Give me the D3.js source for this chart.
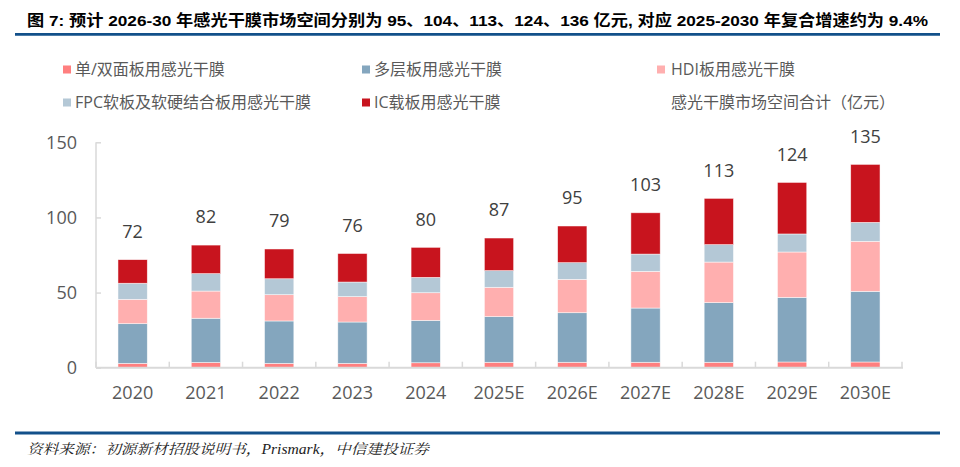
<!DOCTYPE html>
<html>
<head>
<meta charset="utf-8">
<script src="https://cdn.jsdelivr.net/npm/d3@7/dist/d3.min.js"></script>
<style>
  html, body { margin: 0; padding: 0; background: #fff; }
  svg { display: block; }
</style>
</head>
<body>
<svg id="chart" width="960" height="467"></svg>
<script>
// ---- data ----
const categories = ['2020','2021','2022','2023','2024','2025E','2026E','2027E','2028E','2029E','2030E'];
const singleDouble = [2.9, 3.5, 2.9, 2.9, 3.3, 3.6, 3.6, 3.6, 3.6, 3.8, 3.8];
const multiLayer   = [26.4, 29.4, 28.2, 27.5, 28.2, 30.4, 33.0, 36.1, 39.7, 43.0, 47.0];
const hdi          = [16.2, 18.1, 17.5, 16.9, 18.4, 19.5, 22.2, 24.4, 27.0, 30.2, 33.3];
const fpc          = [10.7, 11.6, 10.6, 9.7, 10.2, 11.1, 11.1, 11.5, 11.6, 12.0, 12.6];
const icSubstrate  = [15.7, 19.0, 19.8, 19.0, 20.0, 21.7, 24.4, 27.5, 30.8, 34.3, 38.6];
const totals       = [72, 82, 79, 76, 80, 87, 95, 103, 113, 124, 135];
const yTicks = [0, 50, 100, 150];

const seriesNames = ['单/双面板用感光干膜', '多层板用感光干膜', 'HDI板用感光干膜', 'FPC软板及软硬结合板用感光干膜', 'IC载板用感光干膜'];
const totalName = '感光干膜市场空间合计（亿元）';
const titleText = '图 7:  预计 2026-30 年感光干膜市场空间分别为 95、104、113、124、136 亿元, 对应 2025-2030 年复合增速约为 9.4%';
const sourceText = '资料来源：初源新材招股说明书，Prismark，中信建投证券';

// ---- build table ----
const keys = ['s','m','h','f','i'];
const seriesArrays = [singleDouble, multiLayer, hdi, fpc, icSubstrate];
const table = categories.map((c, idx) => {
  const row = { cat: c };
  keys.forEach((k, j) => row[k] = seriesArrays[j][idx]);
  return row;
});
const colors = ['#FF7F7F', '#84A6BE', '#FFAFAF', '#B4C8D6', '#C8141E'];

const svg = d3.select('#chart');
const fontSans = '"Open Sans", "Noto Sans CJK SC", sans-serif';

// title
svg.append('text')
  .attr('x', 27).attr('y', 26)
  .attr('font-family', '"Liberation Sans", "Noto Sans CJK SC", sans-serif')
  .attr('font-weight', 'bold').attr('font-size', 15.5).attr('fill', '#000')
  .attr('textLength', 901).attr('lengthAdjust', 'spacingAndGlyphs')
  .text(titleText);
svg.append('line').attr('x1', 15).attr('x2', 940).attr('y1', 34.3).attr('y2', 34.3)
  .attr('stroke', '#12508A').attr('stroke-width', 2.8);

// scales
const x = d3.scaleBand().domain(categories).range([96, 902]).paddingInner(0.6).paddingOuter(0.3);
const y = d3.scaleLinear().domain([0, 150]).range([367.7, 142.3]);

// stacked bars
const stack = d3.stack().keys(keys)(table);
const g = svg.append('g');
stack.forEach((layer, j) => {
  g.selectAll(null).data(layer).enter().append('rect')
    .attr('x', d => x(d.data.cat))
    .attr('width', x.bandwidth())
    .attr('y', d => y(d[1]))
    .attr('height', d => y(d[0]) - y(d[1]))
    .attr('fill', colors[j])
    .attr('stroke', '#ffffff').attr('stroke-width', 0.7).attr('stroke-opacity', 0.7);
});

// axes
const axisColor = '#D9D9D9';
const yAxis = d3.axisRight(y).tickValues(yTicks).tickSize(5).tickFormat('');
const ya = svg.append('g').attr('transform', 'translate(96,0)').call(yAxis);
ya.select('.domain').remove();
ya.selectAll('line').attr('stroke', axisColor).attr('stroke-width', 1.5);
svg.append('line').attr('x1', 96).attr('x2', 96).attr('y1', y(150)).attr('y2', y(0))
  .attr('stroke', axisColor).attr('stroke-width', 1.5);
svg.selectAll('.ytl').data(yTicks).enter().append('text')
  .attr('x', 77).attr('y', d => y(d)).attr('dy', '0.35em')
  .attr('text-anchor', 'end').attr('font-family', fontSans).attr('font-size', 18).attr('fill', '#595959')
  .text(d => d);

// x axis with ticks at band boundaries, pointing up
const boundaries = d3.range(categories.length + 1).map(i => 96 + i * x.step());
svg.selectAll('.xt').data(boundaries).enter().append('line')
  .attr('x1', d => d).attr('x2', d => d).attr('y1', y(0)).attr('y2', y(0) - 6)
  .attr('stroke', axisColor).attr('stroke-width', 1.5);
svg.append('line').attr('x1', 96).attr('x2', 903).attr('y1', y(0)).attr('y2', y(0))
  .attr('stroke', axisColor).attr('stroke-width', 2);
svg.selectAll('.xl').data(categories).enter().append('text')
  .attr('x', d => x(d) + x.bandwidth() / 2).attr('y', 392.5).attr('dy', '0.35em')
  .attr('text-anchor', 'middle').attr('font-family', fontSans).attr('font-size', 18).attr('fill', '#595959')
  .text(d => d);

// total labels
svg.selectAll('.tl').data(categories).enter().append('text')
  .attr('x', d => x(d) + x.bandwidth() / 2)
  .attr('y', (d, idx) => y(d3.sum(seriesArrays, a => a[idx])) - 28)
  .attr('dy', '0.35em')
  .attr('text-anchor', 'middle').attr('font-family', fontSans).attr('font-size', 18).attr('fill', '#404040')
  .text((d, idx) => totals[idx]);

// legend
const legendItems = [
  { name: seriesNames[0], color: colors[0], mx: 63, tx: 75, y: 69.5 },
  { name: seriesNames[1], color: colors[1], mx: 362, tx: 374, y: 69.5 },
  { name: seriesNames[2], color: colors[2], mx: 657, tx: 671, y: 69.5 },
  { name: seriesNames[3], color: colors[3], mx: 63, tx: 75, y: 102.5 },
  { name: seriesNames[4], color: colors[4], mx: 362, tx: 374, y: 102.5 },
  { name: totalName, color: null, mx: 657, tx: 671, y: 102.5 }
];
const lg = svg.append('g');
legendItems.forEach(it => {
  if (it.color) {
    lg.append('rect').attr('x', it.mx).attr('y', it.y - 4).attr('width', 8).attr('height', 8).attr('fill', it.color);
  }
  lg.append('text').attr('x', it.tx).attr('y', it.y).attr('dy', '0.35em')
    .attr('font-family', fontSans).attr('font-size', 16).attr('fill', '#595959')
    .text(it.name);
});

// footer
svg.append('line').attr('x1', 15).attr('x2', 940).attr('y1', 433).attr('y2', 433)
  .attr('stroke', '#12508A').attr('stroke-width', 2.8);
svg.append('text').attr('x', 27).attr('y', 454)
  .attr('font-family', '"Liberation Serif", "Noto Serif CJK SC", "Noto Sans CJK SC", serif')
  .attr('font-style', 'italic').attr('font-size', 14).attr('fill', '#222')
  .attr('textLength', 402).attr('lengthAdjust', 'spacingAndGlyphs')
  .text(sourceText);
</script>
</body>
</html>
